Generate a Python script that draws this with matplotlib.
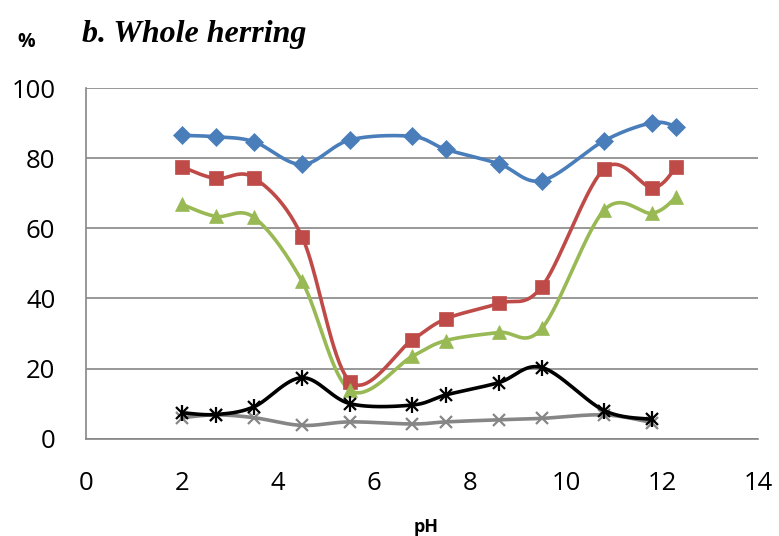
import numpy as np
import matplotlib
matplotlib.use("Agg")
import matplotlib.pyplot as plt

# pH values
ph_long = [2.0, 2.7, 3.5, 4.5, 5.5, 6.8, 7.5, 8.6, 9.5, 10.8, 11.8, 12.3]
ph_short = [2.0, 2.7, 3.5, 4.5, 5.5, 6.8, 7.5, 8.6, 9.5, 10.8, 11.8]

blue_vals = [86.5, 86.1, 84.7, 78.2, 85.2, 86.2, 82.5, 78.4, 73.6, 85.0, 90.1, 89.0]
red_vals = [77.5, 74.2, 74.4, 57.6, 16.3, 28.2, 34.2, 38.6, 43.4, 77.0, 71.6, 77.5]
green_vals = [66.8, 63.4, 63.1, 44.9, 13.8, 23.5, 28.0, 30.3, 31.5, 65.2, 64.3, 68.9]
black_vals = [7.4, 6.9, 9.1, 17.4, 10.0, 9.6, 12.5, 16.0, 20.3, 8.0, 5.5]
gray_vals = [6.0, 6.8, 6.0, 3.8, 4.8, 4.2, 4.8, 5.4, 5.8, 6.8, 4.6]

x_ticks = [0, 2, 4, 6, 8, 10, 12, 14]
y_ticks = [0, 20, 40, 60, 80, 100]


def smooth(x, y, n=40):
    """Curva suavizada tipo Excel (Bezier con tangentes Catmull-Rom)."""
    x = np.asarray(x, float)
    y = np.asarray(y, float)
    pts = np.column_stack([x, y])
    out = [pts[0]]
    for i in range(len(pts) - 1):
        p0 = pts[i - 1] if i > 0 else pts[i]
        p1 = pts[i]
        p2 = pts[i + 1]
        p3 = pts[i + 2] if i + 2 < len(pts) else pts[i + 1]
        c1 = p1 + (p2 - p0) / 6.0
        c2 = p2 - (p3 - p1) / 6.0
        t = np.linspace(0, 1, n)[1:, None]
        seg = ((1 - t) ** 3) * p1 + 3 * ((1 - t) ** 2) * t * c1 + 3 * (1 - t) * t ** 2 * c2 + t ** 3 * p2
        out.extend(seg)
    out = np.array(out)
    return out[:, 0], out[:, 1]


fig = plt.figure(figsize=(7.79, 5.36), dpi=100)
ax = fig.add_axes([0.1104, 0.1815, 0.8626, 0.6543])

lw = 2.6
series = [
    (ph_long, blue_vals, "#4A7EBB", "D", 9, 3),
    (ph_long, red_vals, "#BE4B48", "s", 9.5, 3),
    (ph_long, green_vals, "#98B954", "^", 10, 3),
    (ph_short, gray_vals, "#868686", "x", 9, 2),
    (ph_short, black_vals, "black", "x", 9, 4),
]
for xs, ys, color, marker, ms, z in series:
    sx, sy = smooth(xs, ys)
    ax.plot(sx, sy, color=color, lw=lw, zorder=z, solid_capstyle="round")
    mew = 1.6 if marker == "x" else 0.5
    ax.plot(xs, ys, ls="none", marker=marker, ms=ms, color=color,
            mec=color, mew=mew, zorder=z + 0.5)

# la estrella negra: x + barra vertical
ax.plot(ph_short, black_vals, ls="none", marker="|", ms=11, color="black",
        mew=1.6, zorder=4.5)

ax.set_xlim(0, 14)
ax.set_ylim(0, 100)
ax.set_xticks(x_ticks)
ax.set_yticks(y_ticks)
ax.yaxis.grid(True, color="#868686", lw=1.2)
ax.set_axisbelow(True)
for s in ["top", "right"]:
    ax.spines[s].set_visible(False)
for s in ["left", "bottom"]:
    ax.spines[s].set_color("#868686")
    ax.spines[s].set_linewidth(1.2)
ax.tick_params(length=0, labelsize=18.5)
ax.tick_params(axis="x", pad=23)
ax.tick_params(axis="y", pad=22)
for lab in ax.get_xticklabels() + ax.get_yticklabels():
    lab.set_fontfamily("Open Sans")

fig.text(426 / 779, 1 - 527 / 536, "pH", ha="center", va="center",
         fontsize=13, fontweight="bold", family="Open Sans")
fig.text(26 / 779, 1 - 42 / 536, "%", ha="center", va="center",
         fontsize=14, fontweight="bold", family="Open Sans")
fig.text(82 / 779, 1 - 42 / 536, "b. Whole herring", ha="left", va="baseline",
         fontsize=23, fontweight="bold", fontstyle="italic", family="Liberation Serif")

fig.savefig("out.png", dpi=100)
